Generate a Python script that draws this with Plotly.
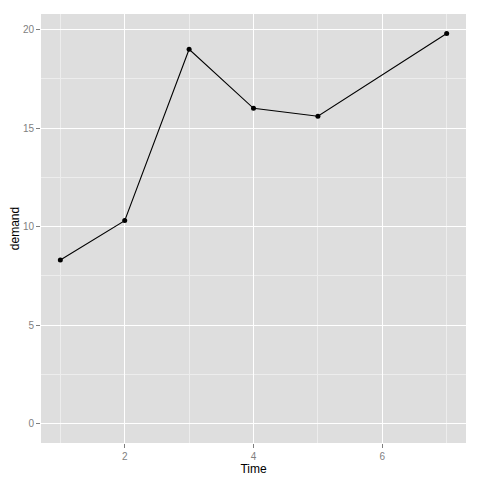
import plotly.graph_objects as go

# BOD data
time = [1, 2, 3, 4, 5, 7]
demand = [8.3, 10.3, 19.0, 16.0, 15.6, 19.8]

x_ticks = [2, 4, 6]
y_ticks = [0, 5, 10, 15, 20]

fig = go.Figure()
fig.add_trace(go.Scatter(
    x=time, y=demand, mode="lines+markers",
    line=dict(color="black", width=1.1),
    marker=dict(color="black", size=5),
    showlegend=False,
))

axis_common = dict(
    showgrid=True, gridcolor="white", gridwidth=1.2,
    zeroline=False, showline=False, automargin=False,
    ticks="outside", ticklen=4, tickwidth=1, tickcolor="#7F7F7F",
    tickfont=dict(family="Liberation Sans, Arial", size=10, color="#7F7F7F"),
    title_font=dict(family="Liberation Sans, Arial", size=12, color="black"),
    minor=dict(showgrid=True, gridcolor="#EDEDED", gridwidth=0.6),
)

fig.update_xaxes(
    **axis_common,
    range=[0.7, 7.3], tickvals=x_ticks,
    title_text="Time", title_standoff=2,
)
fig.update_xaxes(minor=dict(tickvals=[1, 3, 5, 7]))
fig.update_yaxes(
    **axis_common,
    range=[-0.99, 20.79], tickvals=y_ticks,
    title_text="demand", title_standoff=6,
)
fig.update_yaxes(minor=dict(tickvals=[2.5, 7.5, 12.5, 17.5]))

# page body has an 8px margin, so the figure is a bit smaller
fig.update_layout(
    width=472, height=472,
    margin=dict(l=33, r=14, t=6, b=37),
    plot_bgcolor="#DEDEDE", paper_bgcolor="white",
)

fig.write_html("out.html")
